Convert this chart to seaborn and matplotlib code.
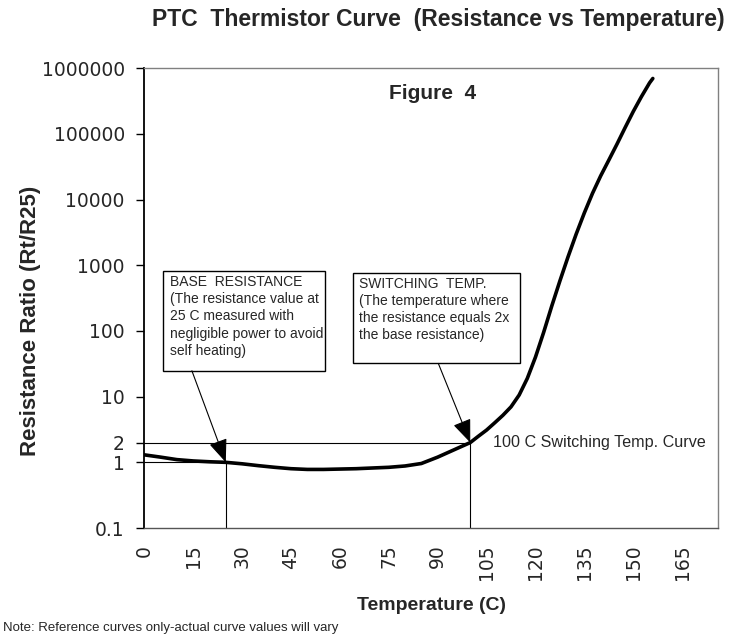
import matplotlib
matplotlib.use("Agg")
import matplotlib.pyplot as plt
import seaborn as sns
import pandas as pd
from matplotlib.patches import Rectangle

# Curve values (temperature in C, Rt/R25)
temps = [0, 5, 10, 15, 20, 25, 30, 35, 40, 45, 50, 55, 60, 65, 70, 75, 80, 85,
         90, 95, 100, 102.5, 105, 107.5, 110, 112.5, 115, 117.5, 120, 122.5, 125,
         127.5, 130, 132.5, 135, 137.5, 140, 142.5, 145, 147.5, 150, 152.5, 155, 156]
ratios = [1.30, 1.20, 1.10, 1.05, 1.02, 1.00, 0.95, 0.89, 0.84, 0.80, 0.78, 0.78,
          0.79, 0.80, 0.82, 0.84, 0.88, 0.96, 1.20, 1.55, 2.0, 2.5, 3.1, 4.0, 5.2,
          7.0, 10.6, 19, 40, 95, 240, 580, 1350, 3000, 6300, 12500, 23000, 40000,
          70000, 125000, 220000, 370000, 600000, 700000]

base_temp, base_ratio = 25, 1
switch_temp, switch_ratio = 100, 2

y_ticks = [0.1, 1, 2, 10, 100, 1000, 10000, 100000, 1000000]
y_labels = ['0.1', '1', '2', '10', '100', '1000', '10000', '100000', '1000000']
x_ticks = list(range(0, 166, 15))

data = pd.DataFrame({'Temperature': temps, 'Ratio': ratios})

sns.set_style('white')
plt.rcParams['font.family'] = ['Liberation Sans', 'DejaVu Sans']

fig = plt.figure(figsize=(7.35, 6.39), dpi=100)
ax = fig.add_axes([0.1963, 0.1737, 0.7806, 0.7194])

sns.lineplot(x='Temperature', y='Ratio', data=data, color='black', linewidth=2.6, ax=ax)

ax.set_yscale('log')
ax.set_ylim(0.1, 1000000)
ax.set_xlim(0, 176)

# reference lines for base resistance and switching temperature
ax.hlines(switch_ratio, 0, switch_temp, color='black', lw=0.8)
ax.vlines(switch_temp, 0.1, switch_ratio, color='black', lw=0.8)
ax.hlines(base_ratio, 0, base_temp, color='black', lw=0.8)
ax.vlines(base_temp, 0.1, base_ratio, color='black', lw=0.8)

ax.set_yticks(y_ticks)
ax.set_yticklabels(y_labels, family='DejaVu Sans')
ax.minorticks_off()
ax.set_xticks(x_ticks)
ax.set_xticklabels([str(t) for t in x_ticks], rotation=90, family='DejaVu Sans')
ax.tick_params(axis='y', length=6, width=1, color='black', pad=8, labelsize=13.5, direction='out', left=True)
ax.tick_params(axis='x', length=0, pad=12, labelsize=13.5)

for side in ['top', 'right']:
    ax.spines[side].set_color('#808080')
    ax.spines[side].set_linewidth(1)
ax.spines['left'].set_color('black')
ax.spines['left'].set_linewidth(1.3)
ax.spines['bottom'].set_color('#555555')
ax.spines['bottom'].set_linewidth(1)

ax.set_xlabel('Temperature (C)', fontsize=14, fontweight='bold', labelpad=12)
ax.set_ylabel('Resistance Ratio (Rt/R25)', fontsize=16, fontweight='bold')
ax.yaxis.set_label_coords(-0.18, 0.45)

fig.text(0.597, 0.969, 'PTC  Thermistor Curve  (Resistance vs Temperature)',
         ha='center', va='center', fontsize=16.5, fontweight='bold')
ax.text(0.502, 0.946, 'Figure  4', transform=ax.transAxes, ha='center', va='center',
        fontsize=15, fontweight='bold')
ax.text(switch_temp + 7, switch_ratio, '100 C Switching Temp. Curve', ha='left', va='center', fontsize=11.6)

# annotation boxes
boxes = [
    ((0.033, 0.342), 0.282, 0.217,
     'BASE  RESISTANCE\n(The resistance value at\n25 C measured with\nnegligible power to avoid\nself heating)',
     (0.083, 0.342), (base_temp, base_ratio)),
    ((0.364, 0.358), 0.291, 0.197,
     'SWITCHING  TEMP.\n(The temperature where\nthe resistance equals 2x\nthe base resistance)',
     (0.5125, 0.358), (switch_temp, switch_ratio)),
]
for (bx, by), bw, bh, txt, start, tip in boxes:
    ax.add_patch(Rectangle((bx, by), bw, bh, transform=ax.transAxes, facecolor='white',
                           edgecolor='black', lw=1, zorder=4))
    ax.text(bx + 0.011, by + bh - 0.008, txt, transform=ax.transAxes, ha='left', va='top',
            fontsize=10, linespacing=1.3, zorder=5)
    ax.annotate('', xy=tip, xycoords='data', xytext=start, textcoords='axes fraction',
                arrowprops=dict(arrowstyle='-|>,head_length=0.8,head_width=0.32',
                                mutation_scale=18, color='black', lw=0.8, shrinkA=0, shrinkB=0),
                zorder=5)

fig.text(0.004, 0.017, 'Note: Reference curves only-actual curve values will vary',
         ha='left', va='center', fontsize=9.5)

fig.savefig('out.png', dpi=100)
